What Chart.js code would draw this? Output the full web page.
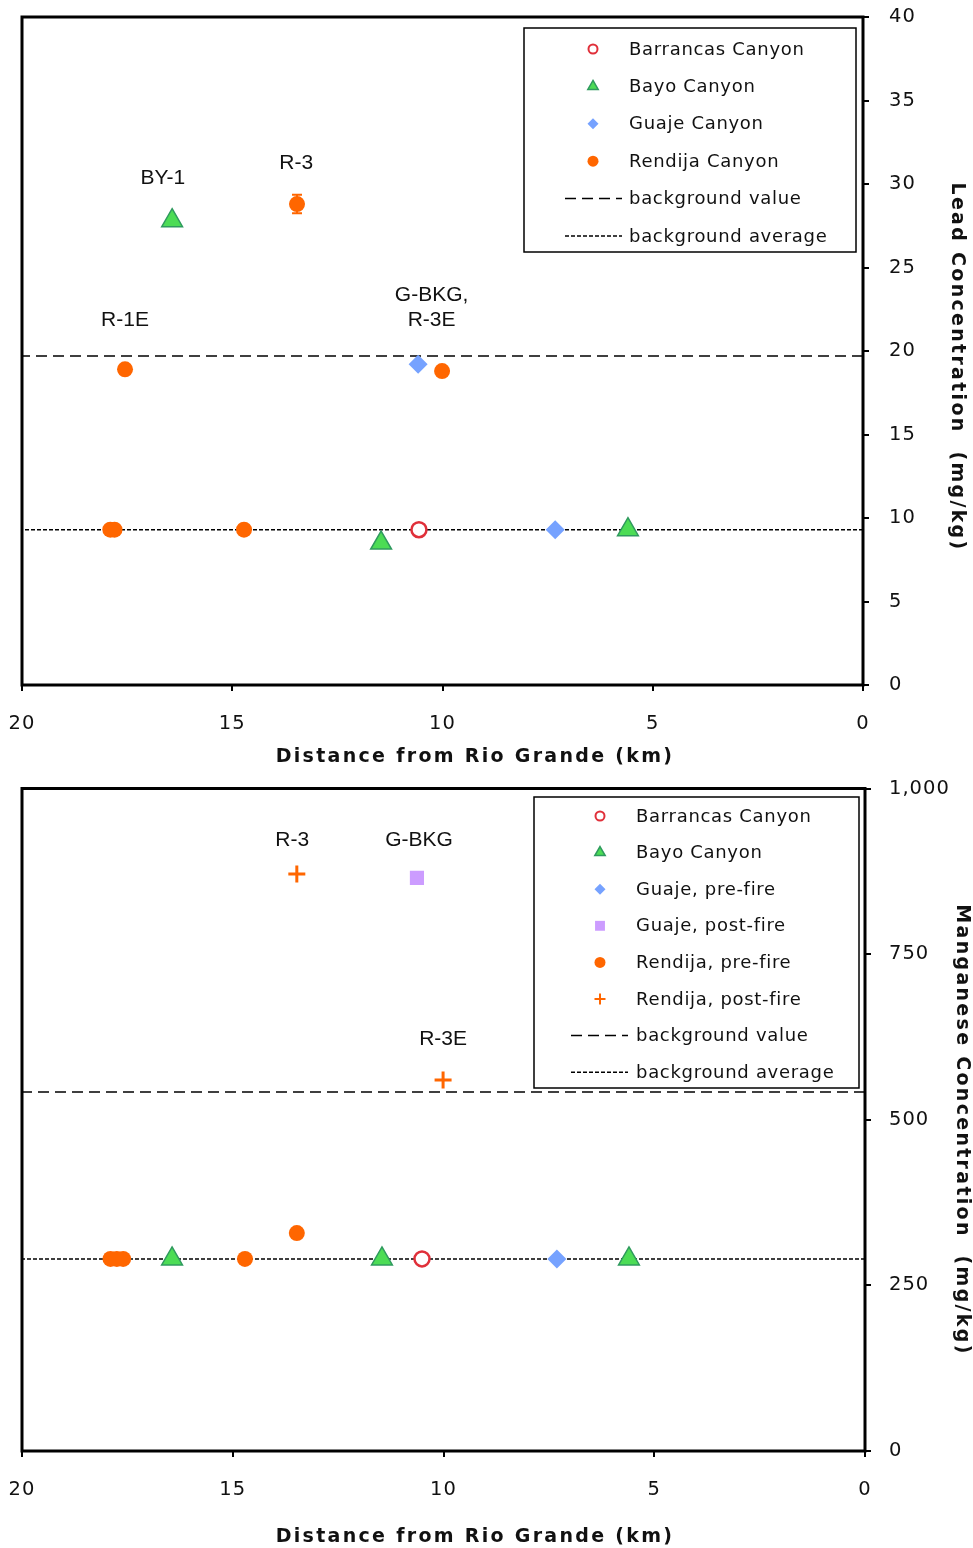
<!DOCTYPE html>
<html>
<head>
<meta charset="utf-8">
<script src="https://cdn.jsdelivr.net/npm/chart.js@4.4.1/dist/chart.umd.min.js"></script>
<style>
  html, body { margin: 0; padding: 0; background: #fff; }
  canvas { display: block; }
</style>
</head>
<body>
<canvas id="lead" width="973" height="775"></canvas>
<canvas id="manganese" width="973" height="773"></canvas>
<script>
// Lead (mg/kg) against distance from the Rio Grande (km)
const leadBarrancasKm = [10.56]
const leadBarrancasMg = [9.3]
const leadBayoKm = [16.43, 11.46, 5.59]
const leadBayoMg = [27.8, 8.5, 9.3]
const leadGuajeKm = [10.58, 7.32]
const leadGuajeMg = [19.2, 9.3]
const leadRendijaKm = [17.9, 17.8, 17.55, 14.72, 13.46, 10.01]
const leadRendijaMg = [9.3, 9.3, 18.9, 9.3, 28.8, 18.8]
const leadRendijaErr = [0, 0, 0, 0, 0.55, 0]
const leadBackgroundValue = 19.7
const leadBackgroundAverage = 9.3
const leadTicks = [0, 5, 10, 15, 20, 25, 30, 35, 40]

// Manganese (mg/kg) against distance from the Rio Grande (km)
const mnBarrancasKm = [10.51]
const mnBarrancasMg = [290]
const mnBayoKm = [16.44, 11.46, 5.6]
const mnBayoMg = [290, 290, 290]
const mnGuajePreKm = [7.31]
const mnGuajePreMg = [290]
const mnGuajePostKm = [10.63]
const mnGuajePostMg = [865]
const mnRendijaPreKm = [17.9, 17.75, 17.6, 14.71, 13.48]
const mnRendijaPreMg = [290, 290, 290, 290, 329]
const mnRendijaPostKm = [13.48, 10.01]
const mnRendijaPostMg = [871, 560]
const mnBackgroundValue = 542
const mnBackgroundAverage = 290
const mnTicks = [0, 250, 500, 750, 1000]

const distanceTicks = [0, 5, 10, 15, 20]

// station names written next to the points (km, mg/kg)
const leadNotes = [
  { text: ['BY-1'], x: 16.65, y: 30.36 },
  { text: ['R-3'], x: 13.48, y: 31.26 },
  { text: ['R-1E'], x: 17.55, y: 21.86 },
  { text: ['G-BKG,', 'R-3E'], x: 10.26, y: 22.6 }
]
const mnNotes = [
  { text: ['R-3'], x: 13.59, y: 922 },
  { text: ['G-BKG'], x: 10.58, y: 922 },
  { text: ['R-3E'], x: 10.01, y: 622 }
]

const pts = (km, mg) => km.map((x, i) => ({ x, y: mg[i] }))
const flat = v => [{ x: 0, y: v }, { x: 20, y: v }]

const RED = '#e0303a'
const GREEN = '#4cdc55'
const GREEN_EDGE = '#2f9a5e'
const BLUE = '#76a2ff'
const LILAC = '#cc9cff'
const ORANGE = '#ff6600'
const INK = '#111'

Chart.defaults.font.family = '"DejaVu Sans", Verdana, sans-serif'
Chart.defaults.font.size = 19.5
Chart.defaults.color = INK

const barrancas = (km, mg) => ({
  label: 'Barrancas Canyon', data: pts(km, mg), pointStyle: 'circle',
  pointRadius: 7.5, backgroundColor: '#fff', borderColor: RED, borderWidth: 2.5, legendRadius: 4.5
})
const bayo = (km, mg) => ({
  label: 'Bayo Canyon', data: pts(km, mg), pointStyle: 'triangle',
  pointRadius: 12, backgroundColor: GREEN, borderColor: GREEN_EDGE, borderWidth: 1.5, legendRadius: 6
})
const guaje = (label, km, mg) => ({
  label, data: pts(km, mg), pointStyle: 'rectRot',
  pointRadius: 9.5, backgroundColor: BLUE, borderColor: BLUE, borderWidth: 0, legendRadius: 5.5
})
const rendija = (label, km, mg) => ({
  label, data: pts(km, mg), pointStyle: 'circle',
  pointRadius: 8, backgroundColor: ORANGE, borderColor: ORANGE, borderWidth: 0, legendRadius: 5.5
})
const bgLine = (label, v, dash) => ({
  type: 'line', label, data: flat(v), borderColor: '#000', borderWidth: 1.5,
  borderDash: dash, pointRadius: 0, fill: false
})

// frame round the plot area
const frame = {
  id: 'frame',
  beforeDraw(chart) { chart.ctx.letterSpacing = '1px' },
  beforeDatasetsDraw(chart) {
    const { ctx, chartArea: a } = chart
    ctx.save()
    ctx.lineWidth = 3
    ctx.strokeStyle = '#000'
    ctx.strokeRect(a.left, a.top, a.right - a.left, a.bottom - a.top)
    ctx.restore()
  }
}

// vertical error bars, read from dataset.yErr, drawn under the markers
const errorBars = {
  id: 'errorBars',
  beforeDatasetsDraw(chart) {
    const { ctx, scales: { x, y } } = chart
    chart.data.datasets.forEach(ds => {
      if (!ds.yErr) return
      ds.data.forEach((p, i) => {
        const e = ds.yErr[i]
        if (!e) return
        const px = x.getPixelForValue(p.x)
        const lo = y.getPixelForValue(p.y - e)
        const hi = y.getPixelForValue(p.y + e)
        ctx.save()
        ctx.strokeStyle = ds.borderColor
        ctx.lineWidth = 2
        ctx.beginPath()
        ctx.moveTo(px, lo); ctx.lineTo(px, hi)
        ctx.moveTo(px - 5, lo); ctx.lineTo(px + 5, lo)
        ctx.moveTo(px - 5, hi); ctx.lineTo(px + 5, hi)
        ctx.stroke()
        ctx.restore()
      })
    })
  }
}

function notes(items) {
  return {
    id: 'notes',
    afterDatasetsDraw(chart) {
      const { ctx, scales: { x, y } } = chart
      ctx.save()
      ctx.letterSpacing = '0px'
      ctx.font = '21px "Liberation Sans", Arial, sans-serif'
      ctx.fillStyle = INK
      ctx.textAlign = 'center'
      ctx.textBaseline = 'middle'
      items.forEach(n => {
        const cx = x.getPixelForValue(n.x)
        const cy = y.getPixelForValue(n.y)
        const lh = 25
        n.text.forEach((t, k) => {
          ctx.fillText(t, cx, cy + (k - (n.text.length - 1) / 2) * lh)
        })
      })
      ctx.restore()
    }
  }
}

function legendBox(box) {
  return {
    id: 'legendBox',
    afterDraw(chart) {
      const ctx = chart.ctx
      ctx.save()
      ctx.fillStyle = '#fff'
      ctx.fillRect(box.left, box.top, box.width, box.height)
      ctx.lineWidth = 1.5
      ctx.strokeStyle = '#000'
      ctx.strokeRect(box.left, box.top, box.width, box.height)
      ctx.letterSpacing = '0.7px'
      ctx.font = '18px "DejaVu Sans", Verdana, sans-serif'
      ctx.textBaseline = 'middle'
      chart.data.datasets.forEach((ds, i) => {
        const cy = box.top + box.first + i * box.gap
        ctx.save()
        if (ds.type === 'line') {
          ctx.strokeStyle = ds.borderColor
          ctx.lineWidth = ds.borderWidth
          ctx.setLineDash(ds.borderDash)
          ctx.beginPath()
          ctx.moveTo(box.left + box.lineFrom, cy)
          ctx.lineTo(box.left + box.lineTo, cy)
          ctx.stroke()
        } else {
          ctx.fillStyle = ds.backgroundColor
          ctx.strokeStyle = ds.borderColor
          ctx.lineWidth = Math.min(ds.borderWidth, 2)
          Chart.helpers.drawPoint(ctx, {
            pointStyle: ds.pointStyle, radius: ds.legendRadius,
            borderWidth: ds.borderWidth, rotation: 0
          }, box.left + box.mark, cy)
        }
        ctx.restore()
        ctx.fillStyle = INK
        ctx.fillText(ds.label, box.left + box.text, cy + 1)
      })
      ctx.restore()
    }
  }
}

function axisTitles(t) {
  return {
    id: 'axisTitles',
    afterDraw(chart) {
      const ctx = chart.ctx
      ctx.save()
      ctx.fillStyle = INK
      ctx.font = 'bold 19px "DejaVu Sans", Verdana, sans-serif'
      ctx.letterSpacing = '2.3px'
      ctx.textAlign = 'center'
      ctx.textBaseline = 'middle'
      ctx.fillText(t.x, t.xAt[0], t.xAt[1])
      ctx.translate(t.yAt[0], t.yAt[1])
      ctx.rotate(Math.PI / 2)
      ctx.fillText(t.y, 0, 0)
      ctx.restore()
    }
  }
}

function scales(yMax, yTicks, ySpace, xSpace, yPad) {
  const grid = { drawOnChartArea: false, drawTicks: true, color: '#000', lineWidth: 2, tickLength: 6 }
  const noEdgePadding = s => { s.paddingTop = s.paddingBottom = s.paddingLeft = s.paddingRight = 0 }
  return {
    x: {
      type: 'linear', min: 0, max: 20, reverse: true,
      afterBuildTicks: s => { s.ticks = distanceTicks.map(v => ({ value: v })) },
      ticks: { padding: 21, color: INK },
      grid, border: { display: false },
      afterFit: s => { s.height = xSpace; noEdgePadding(s) }
    },
    y: {
      type: 'linear', position: 'right', min: 0, max: yMax,
      afterBuildTicks: s => { s.ticks = yTicks.map(v => ({ value: v })) },
      ticks: { padding: yPad, color: INK, callback: v => v.toLocaleString('en-US') },
      grid, border: { display: false },
      afterFit: s => { s.width = ySpace; noEdgePadding(s) }
    }
  }
}

const base = {
  type: 'scatter',
  options: {
    responsive: false,
    devicePixelRatio: 1,
    animation: false,
    events: [],
    plugins: { legend: { display: false }, tooltip: { enabled: false } }
  }
}

const leadRendija = rendija('Rendija Canyon', leadRendijaKm, leadRendijaMg)
leadRendija.yErr = leadRendijaErr

new Chart(document.getElementById('lead'), {
  ...base,
  data: {
    datasets: [
      barrancas(leadBarrancasKm, leadBarrancasMg),
      bayo(leadBayoKm, leadBayoMg),
      guaje('Guaje Canyon', leadGuajeKm, leadGuajeMg),
      leadRendija,
      bgLine('background value', leadBackgroundValue, [11, 6]),
      bgLine('background average', leadBackgroundAverage, [4, 2])
    ]
  },
  options: {
    ...base.options,
    layout: { padding: { left: 22, top: 17, right: 0, bottom: 0 } },
    scales: scales(40, leadTicks, 110, 90, 20)
  },
  plugins: [
    frame, errorBars, notes(leadNotes),
    legendBox({ left: 524, top: 28, width: 332, height: 224, first: 21, gap: 37.4, mark: 69, lineFrom: 41, lineTo: 98, text: 105 }),
    axisTitles({ x: 'Distance from Rio Grande (km)', xAt: [475, 757], y: 'Lead Concentration  (mg/kg)', yAt: [957, 367] })
  ]
})

const mnRendijaPost = {
  label: 'Rendija, post-fire', data: pts(mnRendijaPostKm, mnRendijaPostMg), pointStyle: 'cross',
  pointRadius: 8.5, backgroundColor: ORANGE, borderColor: ORANGE, borderWidth: 3, legendRadius: 5.5
}
const mnGuajePost = {
  label: 'Guaje, post-fire', data: pts(mnGuajePostKm, mnGuajePostMg), pointStyle: 'rect',
  pointRadius: 10, backgroundColor: LILAC, borderColor: LILAC, borderWidth: 0, legendRadius: 7
}

new Chart(document.getElementById('manganese'), {
  ...base,
  data: {
    datasets: [
      barrancas(mnBarrancasKm, mnBarrancasMg),
      bayo(mnBayoKm, mnBayoMg),
      guaje('Guaje, pre-fire', mnGuajePreKm, mnGuajePreMg),
      mnGuajePost,
      rendija('Rendija, pre-fire', mnRendijaPreKm, mnRendijaPreMg),
      mnRendijaPost,
      bgLine('background value', mnBackgroundValue, [11, 6]),
      bgLine('background average', mnBackgroundAverage, [4, 2])
    ]
  },
  options: {
    ...base.options,
    layout: { padding: { left: 22, top: 10, right: 0, bottom: 0 } },
    scales: scales(1000, mnTicks, 108, 97, 18)
  },
  plugins: [
    frame, notes(mnNotes),
    legendBox({ left: 534, top: 22, width: 325, height: 291, first: 19, gap: 36.6, mark: 66, lineFrom: 37, lineTo: 94, text: 102 }),
    axisTitles({ x: 'Distance from Rio Grande (km)', xAt: [475, 762], y: 'Manganese Concentration  (mg/kg)', yAt: [962, 355] })
  ]
})
</script>
</body>
</html>
